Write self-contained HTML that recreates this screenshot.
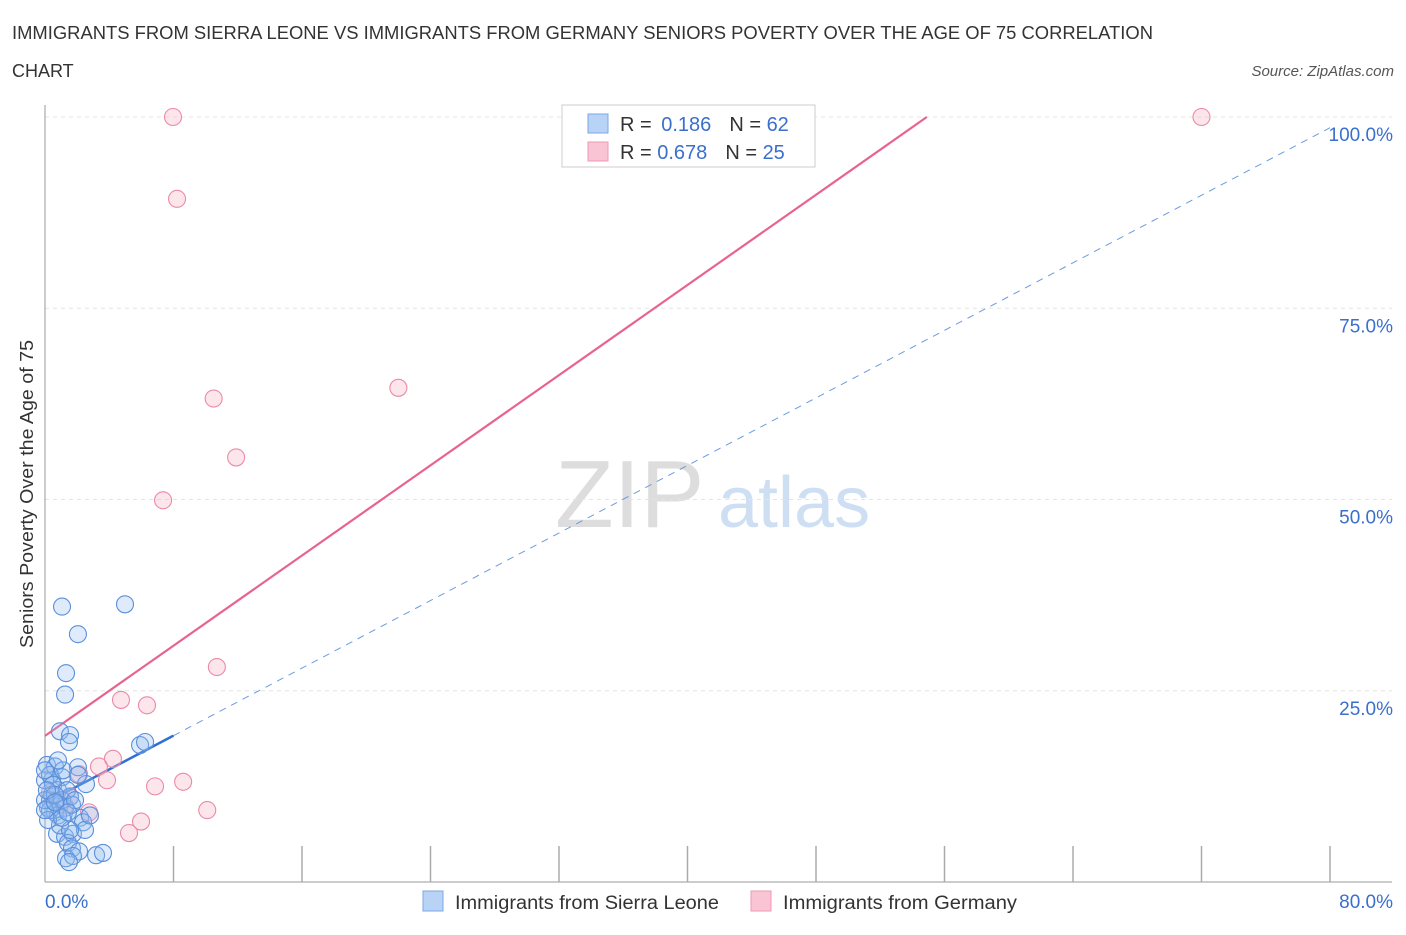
<!DOCTYPE html>
<html><head><meta charset="utf-8"><style>
body{margin:0;background:#fff;font-family:"Liberation Sans",sans-serif;}
svg text{font-family:"Liberation Sans",sans-serif;}
</style></head><body>
<svg id="c" width="1406" height="930" xmlns="http://www.w3.org/2000/svg">
<text x="12" y="39" font-size="18" fill="#333" textLength="1141" lengthAdjust="spacingAndGlyphs">IMMIGRANTS FROM SIERRA LEONE VS IMMIGRANTS FROM GERMANY SENIORS POVERTY OVER THE AGE OF 75 CORRELATION</text>
<text x="12" y="77" font-size="18" fill="#333">CHART</text>
<text x="1394" y="76" font-size="15" fill="#555" font-style="italic" text-anchor="end">Source: ZipAtlas.com</text>
<text x="33" y="494" font-size="18" fill="#333" text-anchor="middle" textLength="308" lengthAdjust="spacingAndGlyphs" transform="rotate(-90 33 494)">Seniors Poverty Over the Age of 75</text>
<g><text x="555" y="527" font-size="96" fill="#ddd" font-family="Liberation Serif">ZIP</text><text x="718" y="527" font-size="72" fill="#cfdff3">atlas</text></g>
<g id="grid"></g><g id="axes"></g><g id="lines"></g><g id="pts"></g>
<g>
<rect x="562" y="105" width="253" height="62" fill="#fff" stroke="#ccc"/>
<rect x="588" y="114" width="20" height="19" fill="#b8d3f5" stroke="#7aa7e6"/>
<rect x="588" y="142" width="20" height="19" fill="#f9c4d4" stroke="#ee9ab3"/>
<text x="620" y="131" font-size="20" fill="#333">R = <tspan fill="#3a6fcc" dx="4">0.186</tspan><tspan dx="18">N = </tspan><tspan fill="#3a6fcc">62</tspan></text>
<text x="620" y="159" font-size="20" fill="#333">R = <tspan fill="#3a6fcc">0.678</tspan><tspan dx="18">N = </tspan><tspan fill="#3a6fcc">25</tspan></text>
</g>
<g>
<rect x="423" y="891" width="20" height="20" fill="#b8d3f5" stroke="#7aa7e6"/>
<text x="455" y="909" font-size="19" fill="#333" textLength="264" lengthAdjust="spacingAndGlyphs">Immigrants from Sierra Leone</text>
<rect x="751" y="891" width="20" height="20" fill="#f9c4d4" stroke="#ee9ab3"/>
<text x="783" y="909" font-size="19" fill="#333" textLength="234" lengthAdjust="spacingAndGlyphs">Immigrants from Germany</text>
</g>
</svg>
<script>
const yTicks=[25,50,75,100];
const yTickLabels=["25.0%","50.0%","75.0%","100.0%"];
const xTickLabels=["0.0%","80.0%"];
const blueX=[1.06,4.98,2.05,1.31,1.25,0.93,1.56,1.49,5.92,6.23,0.12,0.62,2.05,2.55,1.06,0.44,0,0.81,1.56,0.31,0.93,0.19,1.25,0.62,2.18,2.37,0.75,1.25,1.74,1.43,1.68,2.12,1.31,1.74,3.18,3.61,1.49,0.31,0,0.44,1.06,1.68,0.81,0.31,0,0.5,1.37,1.87,0.93,2.49,1.56,0.19,0.62,1.12,0,0.81,2.05,2.8,0.12,1.06,0.62,1.43];
const blueY=[36.0,36.3,32.4,27.3,24.5,19.7,19.2,18.3,17.9,18.3,15.3,15.1,15.0,12.8,13.7,13.3,13.3,12.0,11.1,10.7,10.1,9.7,9.7,9.1,8.4,7.8,6.3,5.9,6.3,5.1,4.4,4.0,3.1,3.4,3.5,3.8,2.6,14.0,14.6,11.4,10.7,10.1,8.7,9.4,10.7,12.7,12.0,10.7,7.4,6.8,6.8,8.1,11.4,14.6,9.4,15.9,14.0,8.7,12.0,8.4,10.4,9.1];
const pinkX=[7.97,8.22,10.5,11.9,7.35,22.0,72.0,39.9,10.7,4.73,6.35,4.23,3.36,3.86,2.12,6.85,8.6,10.1,2.74,5.98,5.23,0.62,1.25,1.56,0.31];
const pinkY=[100,89.3,63.2,55.5,49.9,64.6,100,100,28.1,23.8,23.1,16.1,15.1,13.3,14.1,12.5,13.1,9.4,9.1,7.9,6.4,10.6,10.0,11.2,11.7];
const blueFit=[10.3,98.6];
const pinkFit=[19.1,100,54.9];
const NS="http://www.w3.org/2000/svg";
const X0=45,X1=1330,Y0=882,Y100=117;
const sx=v=>X0+(X1-X0)*v/80, sy=v=>Y0-(Y0-Y100)*v/100;
function mk(p,t,a){const e=document.createElementNS(NS,t);for(const k in a)e.setAttribute(k,a[k]);p.appendChild(e);return e;}
const grid=document.getElementById('grid'),axes=document.getElementById('axes'),lines=document.getElementById('lines'),pts=document.getElementById('pts');
yTicks.forEach((t,i)=>{
 const l=mk(grid,'line',{x1:X0,x2:1392,y1:sy(t),y2:sy(t),stroke:'#e4e4e4','stroke-dasharray':'4 4'});
 
 
 const tx=mk(axes,'text',{x:1393,y:sy(t)+24,'font-size':19,fill:'#3a6fcc','text-anchor':'end'});
 tx.textContent=yTickLabels[i];
 
 
});
const ya=mk(axes,'line',{x1:X0,x2:X0,y1:105,y2:Y0,stroke:'#999'});


const xa=mk(axes,'line',{x1:X0,x2:1392,y1:Y0,y2:Y0,stroke:'#999'});


for(let i=1;i<=10;i++){
 const tk=mk(axes,'line',{x1:sx(i*8),x2:sx(i*8),y1:846,y2:Y0,stroke:'#aaa','stroke-width':1.5});
 
 
}
const xl0=mk(axes,'text',{x:45,y:908,'font-size':19,fill:'#3a6fcc'});xl0.textContent=xTickLabels[0];


const xl1=mk(axes,'text',{x:1393,y:908,'font-size':19,fill:'#3a6fcc','text-anchor':'end'});xl1.textContent=xTickLabels[1];


const pl=mk(lines,'line',{x1:sx(0),y1:sy(pinkFit[0]),x2:sx(pinkFit[2]),y2:sy(pinkFit[1]),stroke:'#e8638f','stroke-width':2.2});


const bSlope=(blueFit[1]-blueFit[0])/80;
const bd=mk(lines,'line',{x1:sx(8),y1:sy(blueFit[0]+bSlope*8),x2:sx(80),y2:sy(blueFit[1]),stroke:'#6a9be0','stroke-width':1,'stroke-dasharray':'7 6'});


const bs=mk(lines,'line',{x1:sx(0),y1:sy(blueFit[0]),x2:sx(8),y2:sy(blueFit[0]+bSlope*8),stroke:'#2f6fd6','stroke-width':2.5});


pinkX.forEach((x,i)=>{
 const c=mk(pts,'circle',{cx:sx(x),cy:sy(pinkY[i]),r:8.5,fill:'rgba(248,180,200,0.35)',stroke:'#eb8aa8','stroke-width':1.1});
 
 
});
blueX.forEach((x,i)=>{
 const c=mk(pts,'circle',{cx:sx(x),cy:sy(blueY[i]),r:8.5,fill:'rgba(150,190,240,0.3)',stroke:'#5a8fdc','stroke-width':1.1});
 
 
});
</script>
</body></html>
